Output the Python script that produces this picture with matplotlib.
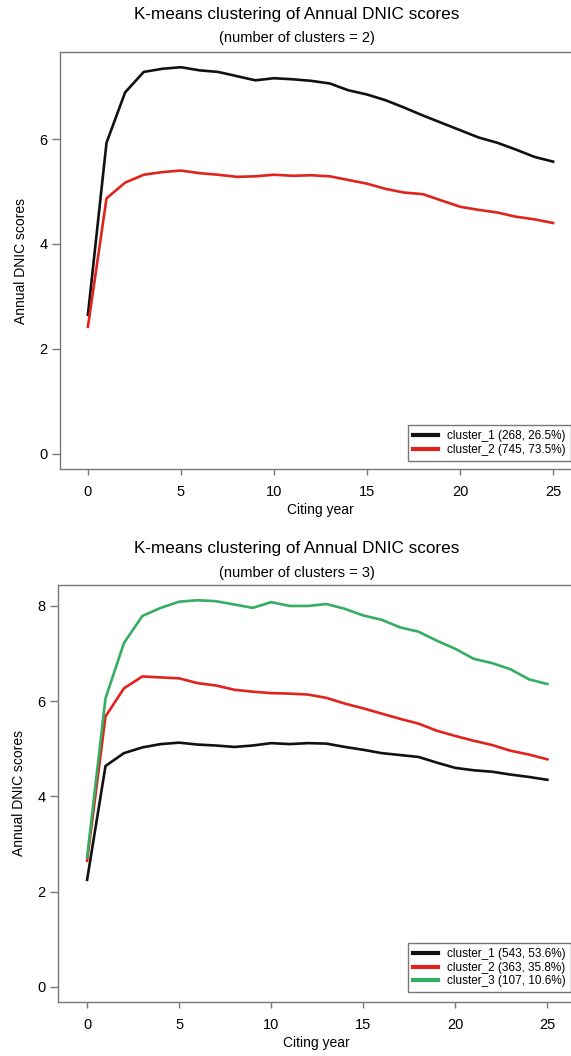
import numpy as np
import matplotlib
matplotlib.use("Agg")
import matplotlib.pyplot as plt

plt.rcParams['font.family'] = ['Liberation Sans', 'DejaVu Sans']

# Citing years 0..25
years = np.arange(26)

# k = 2
k2_c1 = [2.65, 5.93, 6.89, 7.28, 7.34, 7.37, 7.31, 7.28, 7.20, 7.12, 7.16, 7.14, 7.11,
         7.06, 6.93, 6.85, 6.74, 6.60, 6.45, 6.31, 6.17, 6.03, 5.93, 5.80, 5.66, 5.57]
k2_c2 = [2.42, 4.87, 5.17, 5.32, 5.37, 5.40, 5.35, 5.32, 5.28, 5.29, 5.32, 5.30, 5.31,
         5.29, 5.22, 5.15, 5.05, 4.98, 4.95, 4.83, 4.71, 4.65, 4.60, 4.52, 4.47, 4.40]
k2_labels = ["cluster_1 (268, 26.5%)", "cluster_2 (745, 73.5%)"]

# k = 3
k3_c1 = [2.25, 4.64, 4.91, 5.03, 5.10, 5.13, 5.09, 5.07, 5.04, 5.07, 5.12, 5.10, 5.12,
         5.11, 5.04, 4.98, 4.91, 4.87, 4.83, 4.71, 4.60, 4.55, 4.52, 4.46, 4.41, 4.35]
k3_c2 = [2.65, 5.68, 6.27, 6.52, 6.50, 6.48, 6.38, 6.33, 6.24, 6.20, 6.17, 6.16, 6.14,
         6.07, 5.95, 5.85, 5.74, 5.63, 5.53, 5.38, 5.27, 5.17, 5.08, 4.96, 4.88, 4.78]
k3_c3 = [2.72, 6.06, 7.22, 7.79, 7.96, 8.09, 8.12, 8.10, 8.03, 7.96, 8.08, 8.00, 8.00,
         8.04, 7.94, 7.80, 7.71, 7.55, 7.46, 7.27, 7.10, 6.89, 6.80, 6.67, 6.46, 6.36]
k3_labels = ["cluster_1 (543, 53.6%)", "cluster_2 (363, 35.8%)", "cluster_3 (107, 10.6%)"]

colors = ["#111111", "#e0231d", "#35ad62"]

W, H = 571, 1056
fig = plt.figure(figsize=(W / 100, H / 100), dpi=100)


def px_axes(left, top, right, bottom):
    return fig.add_axes([left / W, 1 - bottom / H, (right - left) / W, (bottom - top) / H])


def style(ax, xlim, ylim, yticks):
    ax.set_xlim(*xlim)
    ax.set_ylim(*ylim)
    ax.set_xticks([0, 5, 10, 15, 20, 25])
    ax.set_yticks(yticks)
    for s in ax.spines.values():
        s.set_color("#777777")
        s.set_linewidth(1.0)
    ax.tick_params(axis="x", length=4.5, width=1, color="#777777", pad=7, labelsize=10.5)
    ax.tick_params(axis="y", length=6, width=1, color="#777777", pad=3, labelsize=10.5)
    ax.set_xlabel("Citing year", fontsize=10, labelpad=3)
    ax.set_ylabel("Annual DNIC scores", fontsize=10, labelpad=8)


def legend(ax, left, top):
    leg = ax.legend(loc="upper left", bbox_to_anchor=(left / W, 1 - top / H),
                    bbox_transform=fig.transFigure, fontsize=8.5, frameon=True,
                    fancybox=False, edgecolor="#777777", framealpha=1,
                    borderaxespad=0, borderpad=0.45, handlelength=2.1,
                    handletextpad=0.75, labelspacing=0.12)
    leg.get_frame().set_linewidth(1.0)
    for line in leg.get_lines():
        line.set_linewidth(3)


# ---- top panel ----
ax1 = px_axes(60, 52, 581, 469)
for vals, c, lab in zip([k2_c1, k2_c2], colors, k2_labels):
    ax1.plot(years, vals, color=c, lw=1.9, label=lab, solid_joinstyle="round")
style(ax1, (-1.5, 26.5), (-0.29, 7.66), [0, 2, 4, 6])
legend(ax1, 408, 425)
fig.text(297 / W, 1 - 15 / H, "K-means clustering of Annual DNIC scores",
         ha="center", va="center", fontsize=12.3)
fig.text(297 / W, 1 - 38 / H, "(number of clusters = 2)",
         ha="center", va="center", fontsize=10.5)

# ---- bottom panel ----
ax2 = px_axes(58, 585, 575, 1002)
for vals, c, lab in zip([k3_c1, k3_c2, k3_c3], colors, k3_labels):
    ax2.plot(years, vals, color=c, lw=1.9, label=lab, solid_joinstyle="round")
style(ax2, (-1.58, 26.5), (-0.315, 8.44), [0, 2, 4, 6, 8])
legend(ax2, 408, 943)
fig.text(297 / W, 1 - 549 / H, "K-means clustering of Annual DNIC scores",
         ha="center", va="center", fontsize=12.3)
fig.text(297 / W, 1 - 573 / H, "(number of clusters = 3)",
         ha="center", va="center", fontsize=10.5)

fig.savefig("out.png", dpi=100)
